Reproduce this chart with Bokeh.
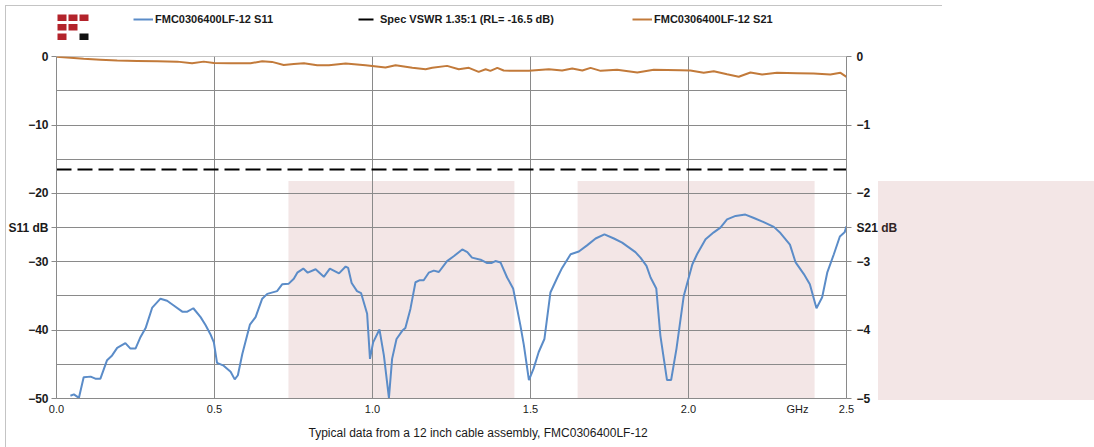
from bokeh.plotting import figure
from bokeh.layouts import column
from bokeh.models import (Range1d, LinearAxis, FixedTicker, BoxAnnotation,
                          Legend, LegendItem, Div, Title)
from bokeh.embed import file_html
from bokeh.resources import INLINE

# ---------------- data ----------------
freq_s11 = [0.044, 0.055, 0.071, 0.086, 0.108, 0.123, 0.139, 0.160, 0.176, 0.192,
            0.218, 0.234, 0.250, 0.266, 0.282, 0.303, 0.329, 0.350, 0.371, 0.398,
            0.414, 0.433, 0.456, 0.472, 0.487, 0.498, 0.508, 0.529, 0.551, 0.564,
            0.574, 0.588, 0.612, 0.630, 0.651, 0.667, 0.698, 0.714, 0.735, 0.751,
            0.762, 0.781, 0.795, 0.820, 0.846, 0.865, 0.894, 0.915, 0.923, 0.934,
            0.951, 0.964, 0.983, 0.992, 1.002, 1.022, 1.036, 1.052, 1.062, 1.076,
            1.094, 1.104, 1.120, 1.136, 1.150, 1.162, 1.178, 1.194, 1.210, 1.236,
            1.257, 1.284, 1.300, 1.315, 1.342, 1.363, 1.376, 1.389, 1.405, 1.426,
            1.445, 1.468, 1.479, 1.495, 1.510, 1.526, 1.544, 1.563, 1.585, 1.600,
            1.627, 1.653, 1.679, 1.706, 1.734, 1.764, 1.790, 1.811, 1.832, 1.848,
            1.867, 1.880, 1.898, 1.911, 1.932, 1.945, 1.962, 1.985, 2.012, 2.027,
            2.054, 2.080, 2.101, 2.122, 2.149, 2.180, 2.207, 2.238, 2.270, 2.291,
            2.321, 2.339, 2.365, 2.384, 2.405, 2.423, 2.439, 2.460, 2.479, 2.494,
            2.500]
s11_db = [-49.6, -49.4, -49.9, -46.9, -46.8, -47.1, -47.1, -44.4, -43.7, -42.6,
          -41.9, -42.7, -42.7, -41.0, -39.7, -36.7, -35.4, -35.7, -36.4, -37.3,
          -37.3, -36.8, -38.1, -39.3, -40.6, -41.8, -44.8, -45.2, -46.1, -47.2,
          -46.6, -43.5, -39.2, -38.1, -35.4, -34.7, -34.3, -33.3, -33.2, -32.5,
          -31.6, -31.0, -31.6, -31.1, -32.2, -31.0, -31.7, -30.7, -30.9, -33.1,
          -34.3, -34.6, -37.6, -44.2, -41.8, -39.9, -43.7, -49.9, -44.2, -41.3,
          -40.1, -39.7, -36.9, -33.0, -32.7, -32.7, -31.6, -31.3, -31.5, -29.9,
          -29.2, -28.2, -28.6, -29.4, -29.7, -30.2, -30.2, -29.9, -30.1, -32.3,
          -33.9, -39.3, -42.2, -47.3, -45.6, -43.2, -41.3, -34.5, -32.3, -30.9,
          -28.9, -28.5, -27.6, -26.6, -26.0, -26.6, -27.2, -27.9, -28.6, -29.4,
          -30.6, -32.3, -33.9, -40.8, -47.3, -47.3, -42.7, -35.0, -30.4, -28.9,
          -26.7, -25.7, -25.0, -23.8, -23.3, -23.1, -23.6, -24.2, -24.9, -25.8,
          -27.5, -30.1, -31.8, -33.3, -36.8, -35.2, -31.6, -28.9, -26.3, -25.7,
          -24.8]

freq_s21 = [0.000, 0.044, 0.086, 0.139, 0.192, 0.255, 0.319, 0.382, 0.429, 0.466,
            0.498, 0.551, 0.614, 0.651, 0.682, 0.719, 0.751, 0.783, 0.825, 0.862,
            0.915, 0.978, 1.041, 1.073, 1.126, 1.168, 1.189, 1.236, 1.273, 1.305,
            1.336, 1.358, 1.373, 1.395, 1.415, 1.453, 1.495, 1.558, 1.600, 1.632,
            1.664, 1.690, 1.722, 1.774, 1.838, 1.890, 1.975, 2.006, 2.048, 2.080,
            2.122, 2.159, 2.196, 2.233, 2.280, 2.344, 2.396, 2.449, 2.481, 2.500]
s21_db = [0.000, -0.015, -0.030, -0.044, -0.058, -0.063, -0.068, -0.073, -0.097, -0.073,
          -0.092, -0.097, -0.097, -0.068, -0.077, -0.121, -0.106, -0.097, -0.126, -0.126,
          -0.102, -0.126, -0.160, -0.126, -0.164, -0.184, -0.164, -0.135, -0.184, -0.164,
          -0.222, -0.184, -0.208, -0.164, -0.203, -0.208, -0.208, -0.184, -0.203, -0.174,
          -0.203, -0.164, -0.208, -0.193, -0.232, -0.193, -0.198, -0.203, -0.237, -0.213,
          -0.257, -0.295, -0.232, -0.261, -0.237, -0.242, -0.247, -0.261, -0.237, -0.295]

spec_freq = [0.0, 2.5]
spec_db = [-16.5, -16.5]

band_start = [0.734, 1.649]
band_end = [1.449, 2.399]
band_top = -18.2
band_bottom = -50.0

x_ticks = [0.0, 0.5, 1.0, 1.5, 2.0, 2.5]
x_tick_labels = ["0.0", "0.5", "1.0", "1.5", "2.0", "2.5"]
x_unit_pos = 2.345
x_unit_label = "GHz"
s11_ticks = [0, -10, -20, -30, -40, -50]
s11_minor = [-5, -15, -25, -35, -45]
s11_title_pos = -25
s11_title = "S11 dB"
s21_ticks = [0, -1, -2, -3, -4, -5]
s21_title_pos = -2.5
s21_title = "S21 dB"

legend_labels = ["FMC0306400LF-12 S11", "Spec VSWR 1.35:1 (RL= -16.5 dB)",
                 "FMC0306400LF-12 S21"]
caption = "Typical data from a  12 inch cable assembly, FMC0306400LF-12"

# ---------------- style ----------------
BLUE = "#5b8cc8"
ORANGE = "#c27a3a"
GRID = "#8a8a8a"
PINK = "#f3e6e6"
RED = "#b3232b"
FONT = "Liberation Sans"
TXT = "#1a1a1a"
W = 1094
HEAD_H = 40
MAIN_H = 406
FRAME_L, FRAME_R = 56, 846

# ---------------- header strip: logo + legend ----------------
# (its frame is aligned with the main chart's frame, so x units = page pixels)
head = figure(width=W, height=HEAD_H, output_backend="svg", toolbar_location=None,
              x_range=Range1d(FRAME_L, FRAME_R), y_range=Range1d(HEAD_H, 0),
              x_axis_type=None, y_axis_type=None, min_border=0)
head.outline_line_color = None
head.grid.visible = False
logo_left = [57, 68, 79, 57, 68, 57, 79]
logo_top = [14, 14, 14, 23.5, 23.5, 33, 33]
logo_col = [RED, RED, RED, RED, RED, RED, "#111111"]
head.quad(left=logo_left, right=[v + 9 for v in logo_left],
          top=logo_top, bottom=[v + 6.5 for v in logo_top],
          fill_color=logo_col, line_color=None)
# legend keys (styled like the chart series; their points lie off-frame)
off = dict(x=[0, 1], y=[-9, -9])
k_s11 = head.line(line_color=BLUE, line_width=2, **off)
k_spec = head.line(line_color="black", line_width=2, line_dash="15 6", **off)
k_s21 = head.line(line_color=ORANGE, line_width=2, **off)
for lab, rend, x0 in zip(legend_labels, [k_s11, k_spec, k_s21], [133, 358, 632]):
    lg = Legend(items=[LegendItem(label=lab, renderers=[rend])],
                location=(x0 - FRAME_L, 11),
                glyph_width=20, glyph_height=20, label_standoff=2,
                padding=0, margin=0, border_line_color=None, background_fill_alpha=0,
                label_text_font=FONT, label_text_font_style="bold",
                label_text_font_size="11px", label_text_color=TXT)
    head.add_layout(lg, "center")

# ---------------- main chart ----------------
p = figure(width=W, height=MAIN_H, output_backend="svg", toolbar_location=None,
           x_range=Range1d(0, 2.5), y_range=Range1d(-50, 0.02),
           min_border_left=FRAME_L, min_border_top=16, min_border_right=W - FRAME_R,
           min_border_bottom=46)
p.outline_line_color = None
p.background_fill_color = "white"
p.border_fill_color = "white"

for bs, be in zip(band_start, band_end):
    p.add_layout(BoxAnnotation(left=bs, right=be, top=band_top, bottom=band_bottom,
                               fill_color=PINK, fill_alpha=1.0, line_color=None,
                               level="image"))

# bottom axis
xax = p.xaxis[0]
xax.ticker = FixedTicker(ticks=x_ticks + [x_unit_pos])
ov = {t: l for t, l in zip(x_ticks, x_tick_labels)}
ov[x_unit_pos] = x_unit_label
xax.major_label_overrides = ov
xax.axis_line_color = GRID
xax.major_tick_line_color = None
xax.minor_tick_line_color = None
xax.major_tick_in = 0
xax.major_tick_out = 0
xax.major_label_standoff = 4
xax.major_label_text_font = FONT
xax.major_label_text_font_size = "11px"
xax.major_label_text_color = TXT

p.add_layout(Title(text=caption, align="left", offset=252, standoff=13,
                   text_font=FONT, text_font_style="normal", text_font_size="12px",
                   text_color=TXT), "below")

# left axis
yax = p.yaxis[0]
yax.ticker = FixedTicker(ticks=s11_ticks + [s11_title_pos], minor_ticks=s11_minor)
yax.major_label_overrides = {s11_title_pos: s11_title}
yax.axis_line_color = GRID
yax.major_tick_line_color = GRID
yax.minor_tick_line_color = None
yax.major_tick_in = 0
yax.major_tick_out = 5
yax.major_label_standoff = 3
yax.major_label_text_font = FONT
yax.major_label_text_font_style = "bold"
yax.major_label_text_font_size = "12px"
yax.major_label_text_color = TXT

# right axis (S21)
p.extra_y_ranges = {"s21": Range1d(-5, 0.002)}
rax = LinearAxis(y_range_name="s21",
                 ticker=FixedTicker(ticks=s21_ticks + [s21_title_pos]))
rax.major_label_overrides = {s21_title_pos: s21_title}
rax.axis_line_color = GRID
rax.major_tick_line_color = GRID
rax.minor_tick_line_color = None
rax.major_tick_in = 0
rax.major_tick_out = 5
rax.major_label_standoff = 5
rax.major_label_text_font = FONT
rax.major_label_text_font_style = "bold"
rax.major_label_text_font_size = "12px"
rax.major_label_text_color = TXT
p.add_layout(rax, "right")

# grid
p.xgrid.ticker = FixedTicker(ticks=x_ticks)
p.xgrid.grid_line_color = GRID
p.ygrid.ticker = FixedTicker(ticks=s11_ticks, minor_ticks=s11_minor)
p.ygrid.grid_line_color = GRID
p.ygrid.minor_grid_line_color = GRID

# series
p.line(freq_s11, s11_db, line_color=BLUE, line_width=2)
p.line(spec_freq, spec_db, line_color="black", line_width=2, line_dash="15 6")
p.line(freq_s21, s21_db, line_color=ORANGE, line_width=2, y_range_name="s21")

# decorations beyond the plotting frame (chart-area border, stray shading)
parts = [
    '<div style="position:fixed;left:878px;top:181px;width:216px;height:219px;'
    'background:rgba(175,88,88,0.15);pointer-events:none;"></div>',
    '<div style="position:fixed;left:5px;top:5px;width:937px;height:1px;'
    'background:#c4c4c4;"></div>',
    '<div style="position:fixed;left:5px;top:5px;width:1px;height:442px;'
    'background:#c4c4c4;"></div>',
]
overlay = Div(text="".join(parts), width=1, height=1)

root = column(head, p, overlay, spacing=0)
open("out.html", "w").write(file_html(root, INLINE))
